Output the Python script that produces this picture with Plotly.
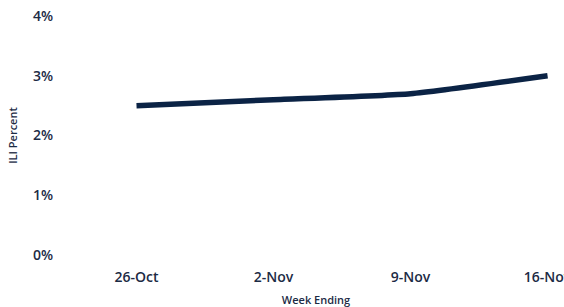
import plotly.graph_objects as go

weeks = ["26-Oct", "2-Nov", "9-Nov", "16-Nov"]
ili_percent = [2.5, 2.6, 2.7, 3.0]
y_ticks = [0, 1, 2, 3, 4]
y_tick_labels = ["0%", "1%", "2%", "3%", "4%"]

navy = "#0b2345"
text_col = "#1c2b45"

fig = go.Figure(go.Scatter(
    x=list(range(len(weeks))), y=ili_percent, mode="lines",
    line=dict(color=navy, width=5.5, shape="spline", smoothing=0.5),
    cliponaxis=False, hoverinfo="skip"))

fig.update_layout(
    width=564, height=307,
    margin=dict(l=68, r=0, t=16, b=52, autoexpand=False),
    paper_bgcolor="white", plot_bgcolor="white",
    showlegend=False,
    font=dict(family="Open Sans", color=text_col),
    xaxis=dict(range=[-0.5, 3.12], tickmode="array",
               tickvals=list(range(len(weeks))), ticktext=weeks,
               showgrid=False, zeroline=False, showline=False, automargin=False,
               ticklabeloverflow="allow", ticklabelstandoff=12,
               tickfont=dict(size=14, weight=600),
               title=dict(text="Week Ending", font=dict(size=11, weight=600), standoff=12)),
    yaxis=dict(range=[0, 4], tickmode="array", tickvals=y_ticks, ticktext=y_tick_labels,
               showgrid=False, zeroline=False, showline=False, automargin=False,
               ticklabeloverflow="allow",
               tickfont=dict(size=14, weight=600), ticklabelstandoff=14,
               title=dict(text="ILI Percent", font=dict(size=11, weight=600), standoff=13)),
)
fig.write_html("out.html", config={"displayModeBar": False},
               post_script="document.body.style.margin='0';document.body.style.overflow='hidden';")
